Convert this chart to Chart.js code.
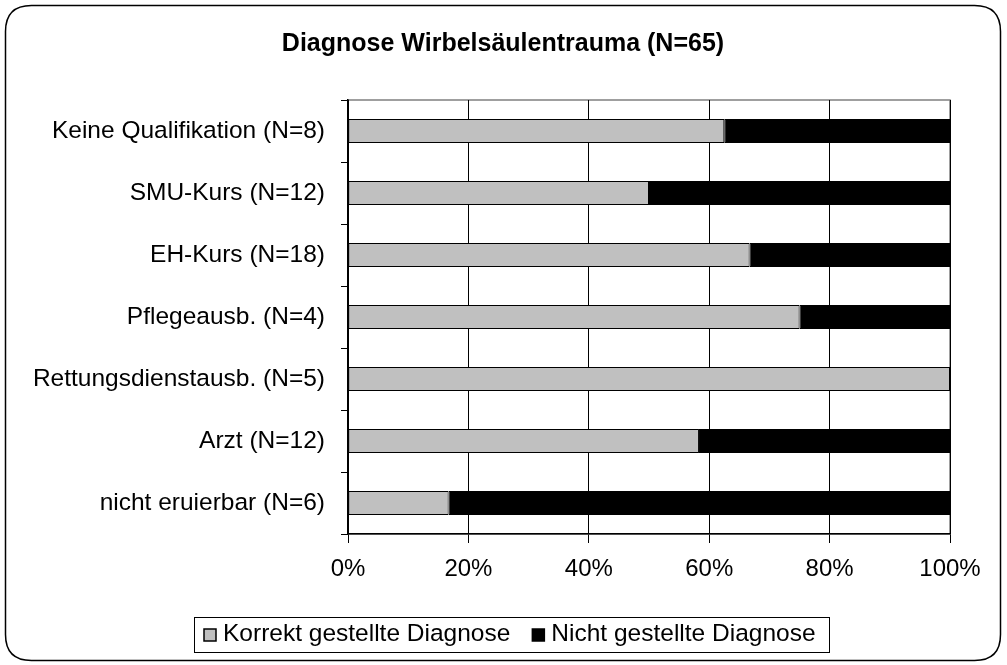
<!DOCTYPE html>
<html><head><meta charset="utf-8">
<script src="https://cdn.jsdelivr.net/npm/chart.js@4"></script>
<style>html,body{margin:0;padding:0;background:#fff;}#wrap{width:1007px;height:665px;position:relative;}</style>
</head><body><div id="wrap"><canvas id="c" width="1007" height="665"></canvas></div>
<script>
const categories = ["Keine Qualifikation (N=8)","SMU-Kurs (N=12)","EH-Kurs (N=18)","Pflegeausb. (N=4)","Rettungsdienstausb. (N=5)","Arzt (N=12)","nicht eruierbar (N=6)"];
const correctPct = [62.5, 50, 66.7, 75, 100, 58.3, 16.7];
const notPct = [37.5, 50, 33.3, 25, 0, 41.7, 83.3];
const xTicks = [0, 20, 40, 60, 80, 100];
const seriesNames = ["Korrekt gestellte Diagnose","Nicht gestellte Diagnose"];
const seriesColors = ["#C0C0C0", "#000000"];
const titleText = "Diagnose Wirbelsäulentrauma (N=65)";

const FONT = "'Liberation Sans', Arial, sans-serif";

const framePlugin = {
  id: 'frame',
  beforeDraw(chart) {
    const ctx = chart.ctx;
    ctx.save();
    ctx.fillStyle = '#fff';
    ctx.fillRect(0, 0, chart.width, chart.height);
    const x = 5.5, y = 5.5, w = 995, h = 655, r = 26;
    ctx.beginPath();
    ctx.moveTo(x + r, y);
    ctx.lineTo(x + w - r, y);
    ctx.quadraticCurveTo(x + w, y, x + w, y + r);
    ctx.lineTo(x + w, y + h - r);
    ctx.quadraticCurveTo(x + w, y + h, x + w - r, y + h);
    ctx.lineTo(x + r, y + h);
    ctx.quadraticCurveTo(x, y + h, x, y + h - r);
    ctx.lineTo(x, y + r);
    ctx.quadraticCurveTo(x, y, x + r, y);
    ctx.closePath();
    ctx.strokeStyle = '#000';
    ctx.lineWidth = 1.5;
    ctx.stroke();
    const a = chart.chartArea;
    ctx.strokeStyle = '#808080';
    ctx.lineWidth = 1.5;
    ctx.strokeRect(a.left, a.top, a.right - a.left, a.bottom - a.top);
    // title
    ctx.fillStyle = '#000';
    ctx.font = "bold 25px " + FONT;
    ctx.textAlign = 'center';
    ctx.textBaseline = 'middle';
    ctx.fillText(titleText, 503, 44);
    ctx.restore();
  },
  afterDraw(chart) {
    const ctx = chart.ctx;
    ctx.save();
    ctx.font = "24.5px " + FONT;
    ctx.textBaseline = 'middle';
    ctx.textAlign = 'left';
    const sq = 12, gapText = 7, gapItem = 22, padL = 10, padR = 13;
    const widths = seriesNames.map(s => ctx.measureText(s).width);
    const total = padL + sq + gapText + widths[0] + gapItem + sq + gapText + widths[1] + padR;
    const cx = 511, cy = 634.5;
    const left = Math.round(cx - total / 2);
    ctx.strokeStyle = '#000';
    ctx.lineWidth = 1;
    ctx.strokeRect(left + 0.5, Math.round(cy - 17.5) + 0.5, Math.round(total), 35);
    let xx = left + padL;
    seriesNames.forEach((s, i) => {
      ctx.fillStyle = seriesColors[i];
      ctx.fillRect(xx, Math.round(cy - sq / 2), sq, sq);
      ctx.strokeStyle = '#000';
      ctx.lineWidth = 1.5;
      ctx.strokeRect(xx, Math.round(cy - sq / 2), sq, sq);
      xx += sq + gapText;
      ctx.fillStyle = '#000';
      ctx.fillText(s, xx, cy);
      xx += widths[i] + gapItem;
    });
    ctx.restore();
  }
};

new Chart(document.getElementById('c'), {
  type: 'bar',
  data: {
    labels: categories,
    datasets: [
      { label: seriesNames[0], data: correctPct, backgroundColor: seriesColors[0], borderColor: '#000', borderWidth: 1, borderSkipped: false },
      { label: seriesNames[1], data: notPct, backgroundColor: seriesColors[1], borderColor: '#000', borderWidth: 1, borderSkipped: false }
    ]
  },
  options: {
    indexAxis: 'y',
    responsive: false,
    animation: false,
    devicePixelRatio: 1,
    layout: { padding: { left: 5, right: 57, top: 100, bottom: 58 } },
    datasets: { bar: { categoryPercentage: 1.0, barPercentage: 0.39 } },
    scales: {
      x: {
        stacked: true, min: 0, max: 100,
        afterBuildTicks(scale) { scale.ticks = xTicks.map(v => ({ value: v })); },
        ticks: { callback: v => v + '%', color: '#000', font: { family: FONT, size: 24 }, padding: 12, maxRotation: 0 },
        grid: { color: '#000', lineWidth: 1, tickLength: 9, drawOnChartArea: true },
        border: { color: '#000', width: 1.5 },
        afterFit(scale) { scale.height = 73; }
      },
      y: {
        stacked: true,
        ticks: { color: '#000', font: { family: FONT, size: 24.5 }, padding: 16 },
        grid: { offset: true, drawOnChartArea: false, color: '#000', tickLength: 7 },
        border: { color: '#000', width: 1.5 },
        afterFit(scale) { scale.width = 343; }
      }
    },
    plugins: {
      title: { display: false },
      legend: { display: false },
      tooltip: { enabled: false }
    }
  },
  plugins: [framePlugin]
});
</script></body></html>
